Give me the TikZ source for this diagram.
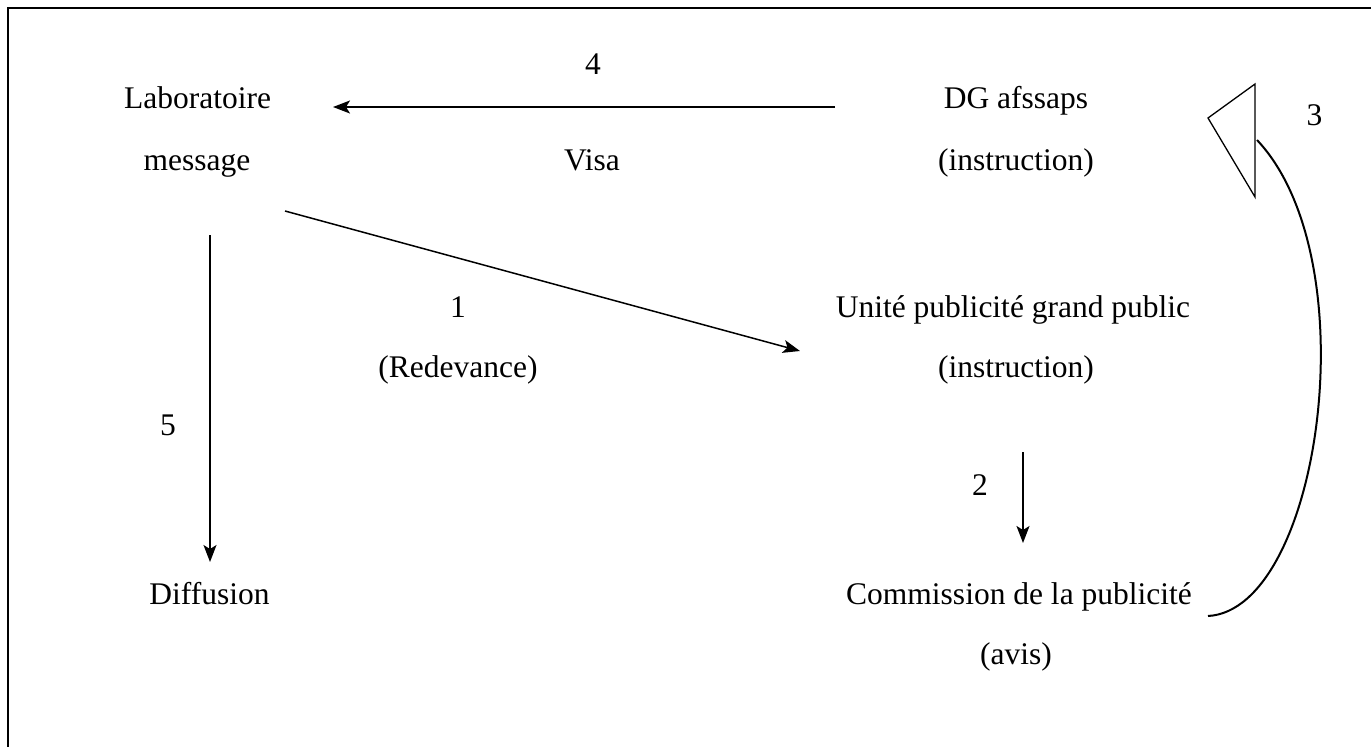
\documentclass[tikz,border=0pt]{standalone}
\usepackage{fontspec}
\setmainfont{Liberation Serif}
\usetikzlibrary{arrows.meta}
\begin{document}
\begin{tikzpicture}[x=1pt,y=-1pt,
  lbl/.style={font=\fontsize{31.5}{38}\selectfont, inner sep=0pt, anchor=base},
  arr/.style={line width=1.5pt, -{Stealth[length=17pt,width=13pt,inset=4pt]}},
  frame/.style={line width=1.5pt},
  curvearrow/.style={line width=2pt},
  openhead/.style={line width=1.3pt, fill=white, line join=miter}]
\useasboundingbox (0,0) rectangle (1371,747);
\draw[frame] (8,747) -- (8,8) -- (1371,8);
% texts
\node[lbl] (lab)  at (197.5,108) {Laboratoire};
\node[lbl] (msg)  at (197,170) {message};
\node[lbl] (four) at (593,74)  {4};
\node[lbl] (visa) at (592,170) {Visa};
\node[lbl] (dg)   at (1016,108) {DG afssaps};
\node[lbl] (dgi)  at (1016,170) {(instruction)};
\node[lbl] (three) at (1314.5,125) {3};
\node[lbl] (one)  at (458,317) {1};
\node[lbl] (red)  at (458,377) {(Redevance)};
\node[lbl] (upg)  at (1013,317) {Unité publicité grand public};
\node[lbl] (upgi) at (1016,377) {(instruction)};
\node[lbl] (five) at (168,435) {5};
\node[lbl] (diff) at (209.5,604) {Diffusion};
\node[lbl] (two)  at (980,495) {2};
\node[lbl] (com)  at (1019,604) {Commission de la publicité};
\node[lbl] (avis) at (1016,664) {(avis)};
% connector end points
\coordinate (a4s) at (835,107);
\coordinate (a4e) at (333,107);
\coordinate (a1s) at (285,211);
\coordinate (a1e) at (800,351);
\coordinate (a5s) at (210,235);
\coordinate (a5e) at (210,562);
\coordinate (a2s) at (1023,452);
\coordinate (a2e) at (1023,543);
\coordinate (a3s) at (1208,616);
\coordinate (a3e) at (1257,140);
\coordinate (t1) at (1255,84);
\coordinate (t2) at (1208,118);
\coordinate (t3) at (1255,197);
% connectors
\draw[arr] (a4s) -- (a4e);
\draw[arr] (a1s) -- (a1e);
\draw[arr] (a5s) -- (a5e);
\draw[arr] (a2s) -- (a2e);
\draw[curvearrow] (a3s) .. controls (1320,610) and (1370,260) .. (a3e);
\draw[openhead] (t1) -- (t2) -- (t3) -- cycle;
\end{tikzpicture}
\end{document}
